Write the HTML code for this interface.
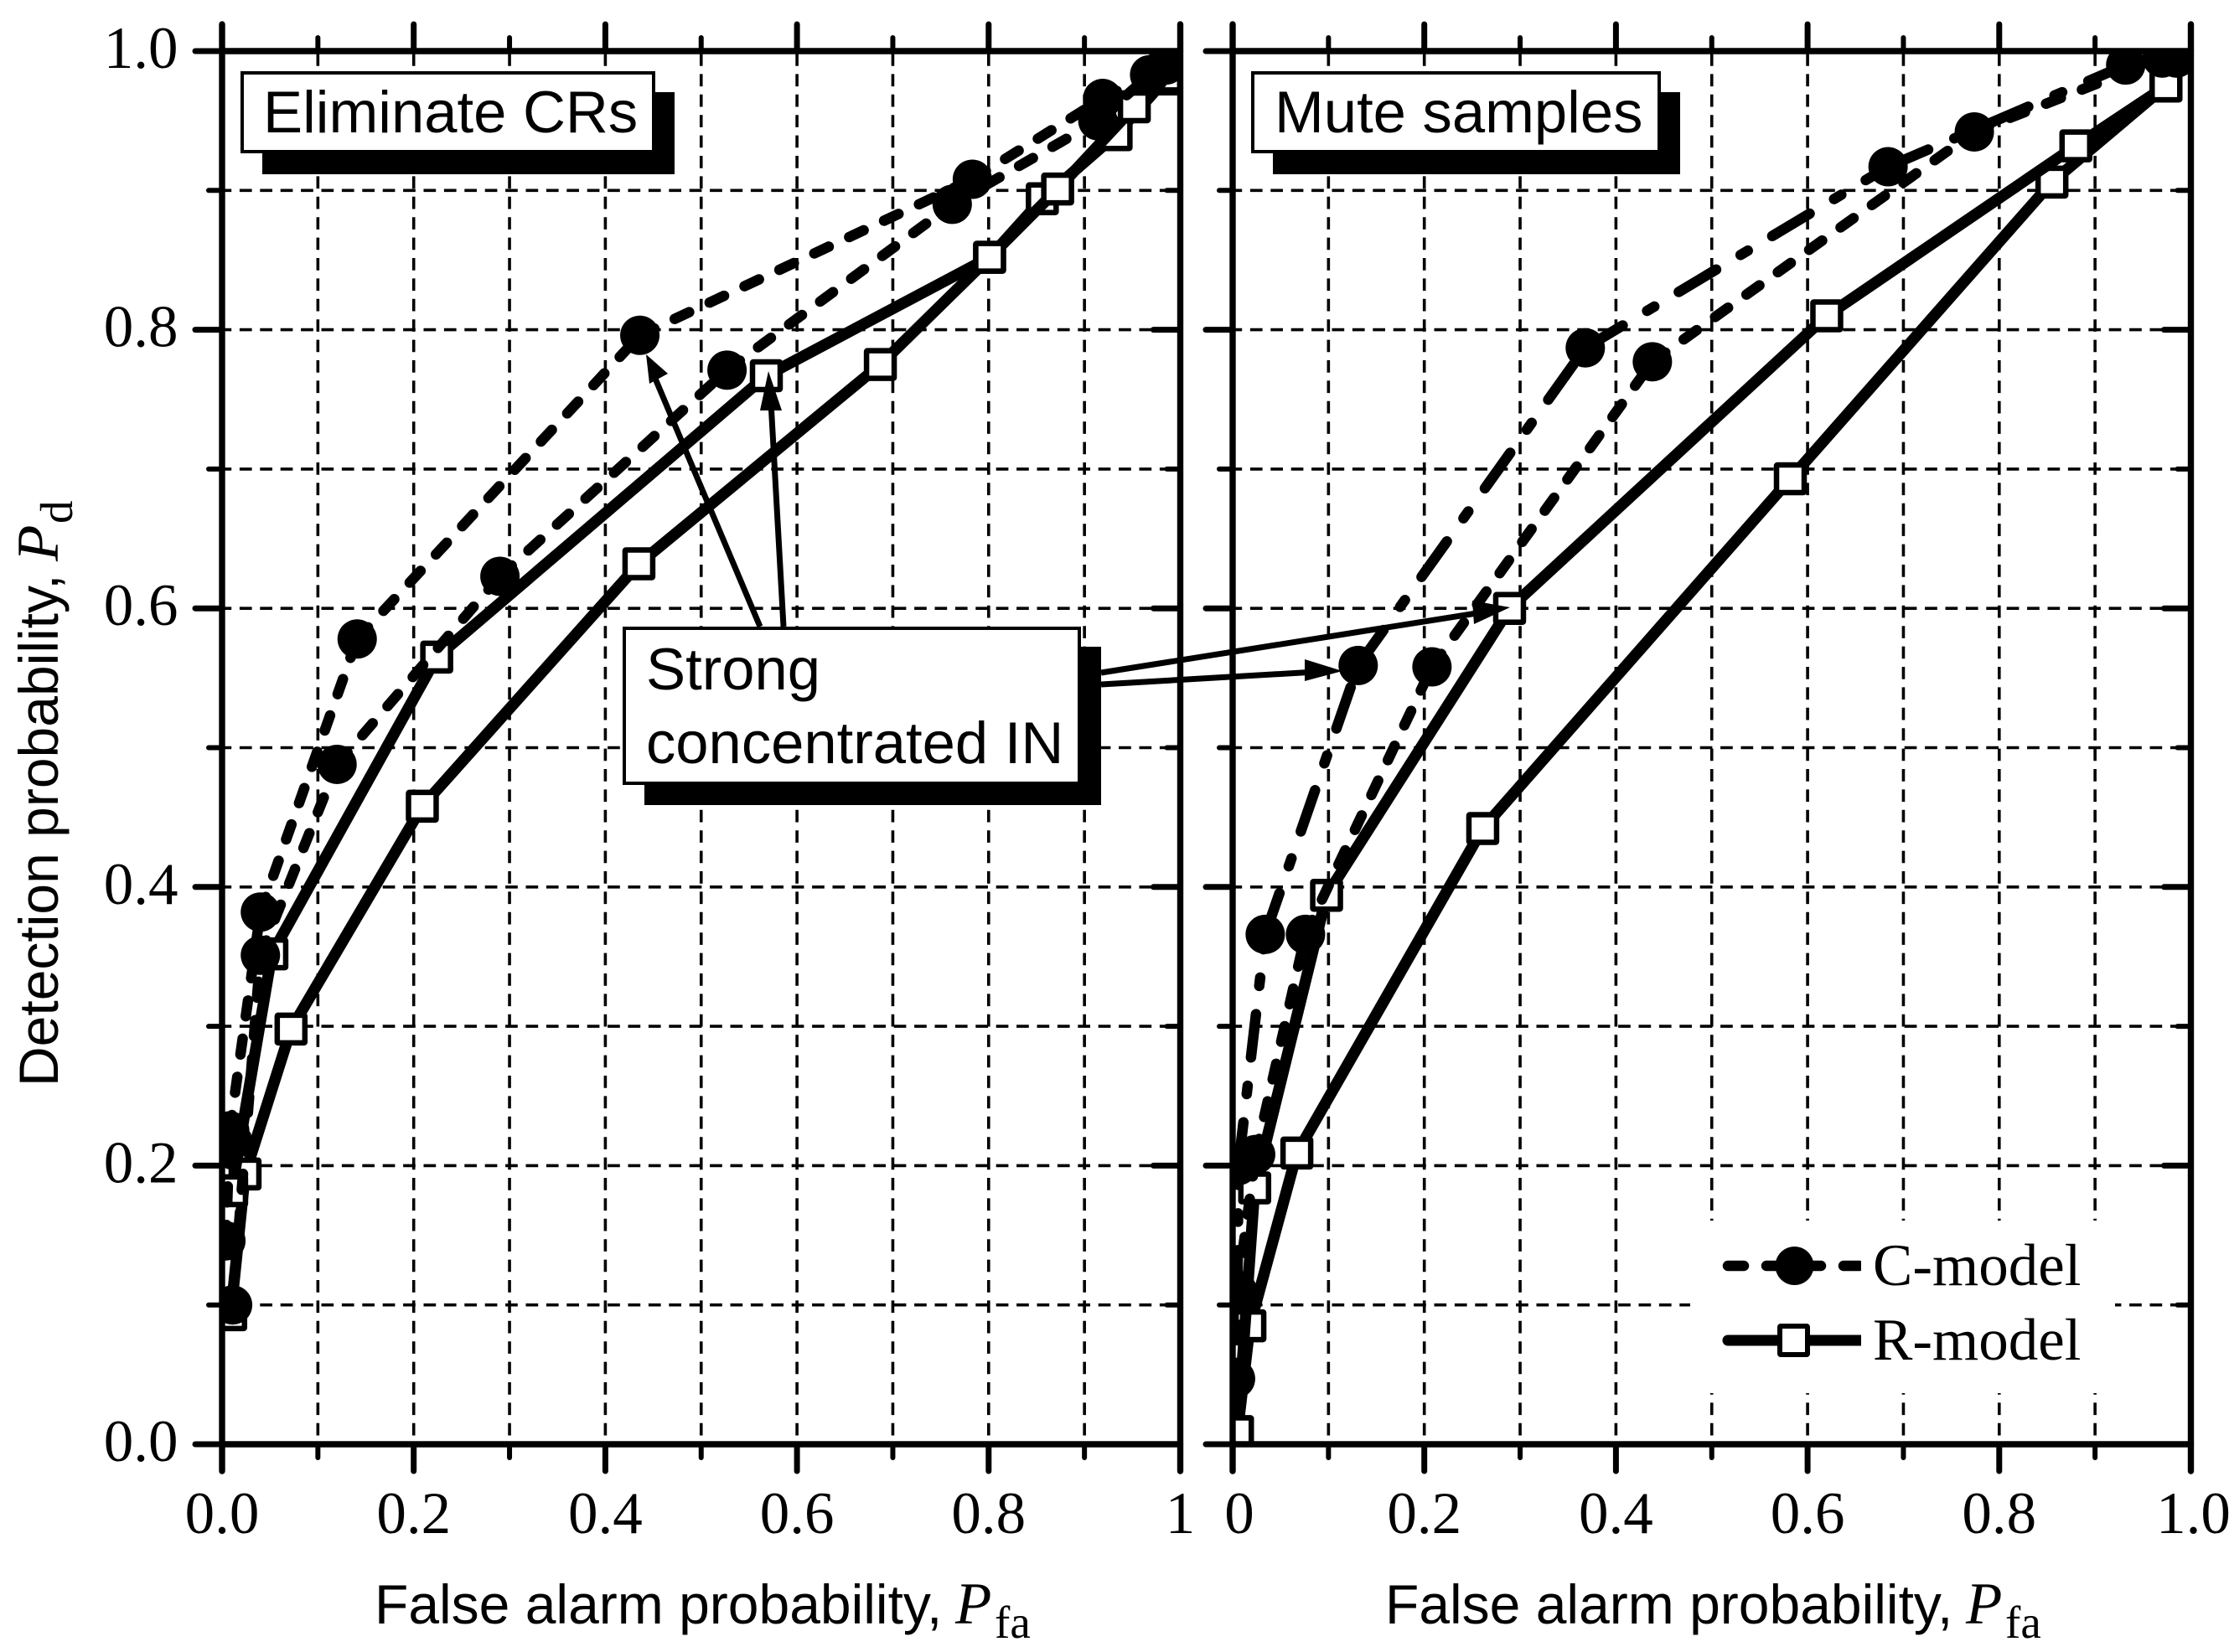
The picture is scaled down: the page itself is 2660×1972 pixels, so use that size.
<!DOCTYPE html>
<html>
<head>
<meta charset="utf-8">
<title>ROC curves: Eliminate CRs and Mute samples</title>
<style>
html,body{margin:0;padding:0;background:#fff;}
svg{display:block;}
.serif{font-family:"Liberation Serif",serif;fill:#000;}
.sans{font-family:"Liberation Sans",sans-serif;fill:#000;}
</style>
</head>
<body>
<svg id="chart" xmlns="http://www.w3.org/2000/svg" width="2660" height="1972" viewBox="0 0 2660 1972">
  <defs>
    <clipPath id="clip-left"><rect x="265" y="61" width="1143.5" height="1663"/></clipPath>
    <clipPath id="clip-right"><rect x="1471" y="61" width="1143.5" height="1663"/></clipPath>
  </defs>
  <rect x="0" y="0" width="2660" height="1972" fill="#fff"/>
  <g id="grid-layer"></g>
  <rect x="2017" y="1457" width="507" height="206" fill="#fff"/>
  <g id="series-left" clip-path="url(#clip-left)"></g>
  <g id="series-right" clip-path="url(#clip-right)"></g>
  <g id="axes-layer"></g>

  <g stroke="#000" fill="#000">
    <line x1="907" y1="748" x2="782" y2="452" stroke-width="7"/>
    <polygon points="771,423 775,458 797,446" stroke="none"/>
    <line x1="935" y1="748" x2="920" y2="480" stroke-width="7"/>
    <polygon points="917,443 907,490 933,490" stroke="none"/>
    <line x1="1314" y1="803" x2="1775" y2="730" stroke-width="7"/>
    <polygon points="1802,725 1757,717 1759,745" stroke="none"/>
    <line x1="1314" y1="817" x2="1570" y2="802" stroke-width="7"/>
    <polygon points="1602,801 1557,787 1557,813" stroke="none"/>
  </g>

  <g>
    <rect x="313" y="110" width="492" height="98" fill="#000"/>
    <rect x="289" y="87" width="491" height="94" fill="#fff" stroke="#000" stroke-width="4"/>
    <text class="sans" x="314" y="158" font-size="70.6">Eliminate CRs</text>
  </g>
  <g>
    <rect x="1519" y="110" width="486" height="98" fill="#000"/>
    <rect x="1495" y="87" width="485" height="94" fill="#fff" stroke="#000" stroke-width="4"/>
    <text class="sans" x="1521" y="158" font-size="70.6">Mute samples</text>
  </g>
  <g>
    <rect x="769" y="772" width="545" height="189" fill="#000"/>
    <rect x="745" y="750" width="543" height="185" fill="#fff" stroke="#000" stroke-width="4"/>
    <text class="sans" x="771" y="823" font-size="70.6">Strong</text>
    <text class="sans" x="771" y="911" font-size="70.6">concentrated IN</text>
  </g>

  <g>
    <line x1="2062" y1="1511" x2="2221" y2="1511" stroke="#000" stroke-width="12.5" stroke-dasharray="19 27" stroke-linecap="round"/>
    <rect x="2221" y="1500" width="14" height="22" fill="#fff"/>
    <circle cx="2141.5" cy="1511" r="23" fill="#000"/>
    <text class="serif" x="2235" y="1534" font-size="71">C-model</text>
    <line x1="2062" y1="1600" x2="2221" y2="1600" stroke="#000" stroke-width="13"/>
    <circle cx="2062" cy="1600" r="6.5" fill="#000"/>
    <rect x="2124" y="1583" width="33" height="34" rx="1" fill="#fff" stroke="#000" stroke-width="6"/>
    <text class="serif" x="2235" y="1623" font-size="71">R-model</text>
  </g>

  <text class="sans" x="447" y="1938" font-size="66">False alarm probability,</text>
  <text class="serif" x="1140" y="1938" font-size="71" font-style="italic">P</text>
  <text class="serif" x="1187" y="1955" font-size="55">fa</text>

  <text class="sans" x="1653" y="1938" font-size="66">False alarm probability,</text>
  <text class="serif" x="2346" y="1938" font-size="71" font-style="italic">P</text>
  <text class="serif" x="2393" y="1955" font-size="55">fa</text>

  <g transform="translate(69,1297) rotate(-90)">
    <text class="sans" x="0" y="0" font-size="66">Detection probability,</text>
    <text class="serif" x="627" y="0" font-size="71" font-style="italic">P</text>
    <text class="serif" x="672" y="17" font-size="55">d</text>
  </g>
</svg>
<script>
// Tick labels
const yTickValues = [0, 0.2, 0.4, 0.6, 0.8, 1.0];
const yTickLabels = ["0.0", "0.2", "0.4", "0.6", "0.8", "1.0"];
const xTickValues = [0, 0.2, 0.4, 0.6, 0.8, 1.0];
const leftXTickLabels = ["0.0", "0.2", "0.4", "0.6", "0.8", "1"];
const rightXTickLabels = ["0", "0.2", "0.4", "0.6", "0.8", "1.0"];
const gridValues = [0.1, 0.2, 0.3, 0.4, 0.5, 0.6, 0.7, 0.8, 0.9];

// Eliminate CRs panel
const elimCUpperX = [0.004, 0.008, 0.040, 0.141, 0.436, 0.783, 0.919, 0.985];
const elimCUpperY = [0.146, 0.225, 0.382, 0.578, 0.796, 0.908, 0.966, 0.990];
const elimCLowerX = [0.011, 0.040, 0.120, 0.290, 0.527, 0.762, 0.914, 0.968];
const elimCLowerY = [0.100, 0.351, 0.488, 0.623, 0.771, 0.890, 0.950, 0.983];
const elimRUpperX = [0.010, 0.052, 0.224, 0.568, 0.801, 0.872, 0.952, 0.985];
const elimRUpperY = [0.182, 0.352, 0.565, 0.767, 0.852, 0.901, 0.960, 0.982];
const elimRLowerX = [0.009, 0.024, 0.072, 0.209, 0.435, 0.687, 0.801, 0.856, 0.933, 0.985];
const elimRLowerY = [0.093, 0.194, 0.298, 0.458, 0.632, 0.775, 0.852, 0.894, 0.940, 0.980];

// Mute samples panel
const muteCUpperX = [0.005, 0.006, 0.034, 0.131, 0.368, 0.684, 0.932, 0.985];
const muteCUpperY = [0.108, 0.200, 0.366, 0.559, 0.787, 0.917, 0.990, 0.995];
const muteCLowerX = [0.003, 0.005, 0.024, 0.076, 0.208, 0.438, 0.774, 0.970];
const muteCLowerY = [0.047, 0.110, 0.208, 0.366, 0.558, 0.777, 0.942, 0.995];
const muteRUpperX = [0.005, 0.023, 0.098, 0.289, 0.620, 0.880, 0.974];
const muteRUpperY = [0.009, 0.184, 0.394, 0.600, 0.810, 0.932, 0.975];
const muteRLowerX = [0.005, 0.018, 0.067, 0.261, 0.582, 0.855, 0.974];
const muteRLowerY = [0.009, 0.085, 0.209, 0.442, 0.693, 0.906, 0.975];

const NS = "http://www.w3.org/2000/svg";
const Y_BOTTOM = 1724;
const Y_TOP = 61;
const PANEL_WIDTH = 1143.5;
const MAJOR = 32;
const MINOR = 16;

function yPos(v) { return Y_BOTTOM - v * (Y_BOTTOM - Y_TOP); }
function xPos(x0, v) { return x0 + v * PANEL_WIDTH; }

function mk(parent, tag, attrs) {
  const el = document.createElementNS(NS, tag);
  for (const k in attrs) el.setAttribute(k, attrs[k]);
  parent.appendChild(el);
  return el;
}

const gridLayer = document.getElementById("grid-layer");
const axesLayer = document.getElementById("axes-layer");

function drawGrid(x0) {
  gridValues.forEach(function (v) {
    const vx = xPos(x0, v);
    const vLine = mk(gridLayer, "line", { x1: vx, y1: Y_TOP + 3, x2: vx, y2: Y_BOTTOM, stroke: "#000", "stroke-width": 3.6, "stroke-dasharray": "14.7 9.7" });
    
    
    const hy = yPos(v);
    const hLine = mk(gridLayer, "line", { x1: x0 - 3.5, y1: hy, x2: x0 + PANEL_WIDTH, y2: hy, stroke: "#000", "stroke-width": 3.6, "stroke-dasharray": "14.7 9.7" });
    
    
  });
}

function drawSolid(layer, xs, ys, x0) {
  const pts = xs.map(function (v, i) { return xPos(x0, v) + "," + yPos(ys[i]); }).join(" ");
  const line = mk(layer, "polyline", { points: pts, fill: "none", stroke: "#000", "stroke-width": 13.5, "stroke-linejoin": "round", "stroke-linecap": "round" });
  
  
}

// The dash pattern restarts at every data point, so each segment is its own line.
function drawDashed(layer, xs, ys, x0, dash) {
  for (let i = 0; i < xs.length - 1; i++) {
    const seg = mk(layer, "line", { x1: xPos(x0, xs[i]), y1: yPos(ys[i]), x2: xPos(x0, xs[i + 1]), y2: yPos(ys[i + 1]), stroke: "#000", "stroke-width": 12.5, "stroke-linecap": "round", "stroke-dasharray": dash });
    
    
  }
}

function drawSquares(layer, xs, ys, x0) {
  xs.forEach(function (v, i) {
    const sq = mk(layer, "rect", { x: xPos(x0, v) - 16.5, y: yPos(ys[i]) - 16.5, width: 33, height: 33, rx: 1, fill: "#fff", stroke: "#000", "stroke-width": 6.5 });
    
    
  });
}

function drawCircles(layer, xs, ys, x0) {
  xs.forEach(function (v, i) {
    const c = mk(layer, "circle", { cx: xPos(x0, v), cy: yPos(ys[i]), r: 23.5, fill: "#000" });
    
    
  });
}

function drawAxes(x0, xLabels, showYLabels, labelOffsets) {
  const x1 = x0 + PANEL_WIDTH;
  const frame = [
    [x0, Y_TOP, x1, Y_TOP], [x0, Y_BOTTOM, x1, Y_BOTTOM],
    [x0, Y_TOP - MAJOR, x0, Y_BOTTOM + MAJOR], [x1, Y_TOP - MAJOR, x1, Y_BOTTOM + MAJOR]
  ];
  frame.forEach(function (f) {
    const a = mk(axesLayer, "line", { x1: f[0], y1: f[1], x2: f[2], y2: f[3], stroke: "#000", "stroke-width": 7.4, "stroke-linecap": "round" });
    
    
  });
  for (let k = 0; k <= 10; k++) {
    const v = k / 10;
    const len = k % 2 === 0 ? MAJOR : MINOR;
    const px = xPos(x0, v);
    const py = yPos(v);
    const w = k % 2 === 0 ? 7 : 6;
    if (k > 0 && k < 10) {
      const t1 = mk(axesLayer, "line", { x1: px, y1: Y_TOP, x2: px, y2: Y_TOP - len, stroke: "#000", "stroke-width": w, "stroke-linecap": "round" });
      
      
      const t2 = mk(axesLayer, "line", { x1: px, y1: Y_BOTTOM, x2: px, y2: Y_BOTTOM + len, stroke: "#000", "stroke-width": w, "stroke-linecap": "round" });
      
      
    }
    const t3 = mk(axesLayer, "line", { x1: x0, y1: py, x2: x0 - len, y2: py, stroke: "#000", "stroke-width": w, "stroke-linecap": "round" });
    
    
    if (k > 0 && k < 10) {
      const t4 = mk(axesLayer, "line", { x1: x1, y1: py, x2: x1 - len, y2: py, stroke: "#000", "stroke-width": w, "stroke-linecap": "round" });
      
      
    }
  }
  xTickValues.forEach(function (v, i) {
    const t = mk(axesLayer, "text", { x: xPos(x0, v) + labelOffsets[i], y: 1830, "text-anchor": "middle", "font-size": 71, class: "serif" });
    t.textContent = xLabels[i];
    
    
  });
  if (showYLabels) {
    yTickValues.forEach(function (v, i) {
      const t = mk(axesLayer, "text", { x: 212.5, y: yPos(v) + 20, "text-anchor": "end", "font-size": 71, class: "serif" });
      t.textContent = yTickLabels[i];
      
      
    });
  }
}

const LEFT_X0 = 265;
const RIGHT_X0 = 1471;
const SHORT_DASH = "19 27";
const DASH_DOT = "52 34 10 34";
const leftLayer = document.getElementById("series-left");
const rightLayer = document.getElementById("series-right");

drawGrid(LEFT_X0);
drawGrid(RIGHT_X0);

// Eliminate CRs series
drawSolid(leftLayer, elimRLowerX, elimRLowerY, LEFT_X0);
drawSquares(leftLayer, elimRLowerX, elimRLowerY, LEFT_X0);
drawSolid(leftLayer, elimRUpperX, elimRUpperY, LEFT_X0);
drawSquares(leftLayer, elimRUpperX, elimRUpperY, LEFT_X0);
drawDashed(leftLayer, elimCUpperX, elimCUpperY, LEFT_X0, SHORT_DASH);
drawCircles(leftLayer, elimCUpperX, elimCUpperY, LEFT_X0);
drawDashed(leftLayer, elimCLowerX, elimCLowerY, LEFT_X0, SHORT_DASH);
drawCircles(leftLayer, elimCLowerX, elimCLowerY, LEFT_X0);

// Mute samples series
drawSolid(rightLayer, muteRLowerX, muteRLowerY, RIGHT_X0);
drawSquares(rightLayer, muteRLowerX, muteRLowerY, RIGHT_X0);
drawSolid(rightLayer, muteRUpperX, muteRUpperY, RIGHT_X0);
drawSquares(rightLayer, muteRUpperX, muteRUpperY, RIGHT_X0);
drawDashed(rightLayer, muteCUpperX, muteCUpperY, RIGHT_X0, DASH_DOT);
drawCircles(rightLayer, muteCUpperX, muteCUpperY, RIGHT_X0);
drawDashed(rightLayer, muteCLowerX, muteCLowerY, RIGHT_X0, SHORT_DASH);
drawCircles(rightLayer, muteCLowerX, muteCLowerY, RIGHT_X0);

drawAxes(LEFT_X0, leftXTickLabels, true, [0, 0, 0, 0, 0, 0]);
drawAxes(RIGHT_X0, rightXTickLabels, false, [8, 0, 0, 0, 0, 3]);
</script>
</body>
</html>
